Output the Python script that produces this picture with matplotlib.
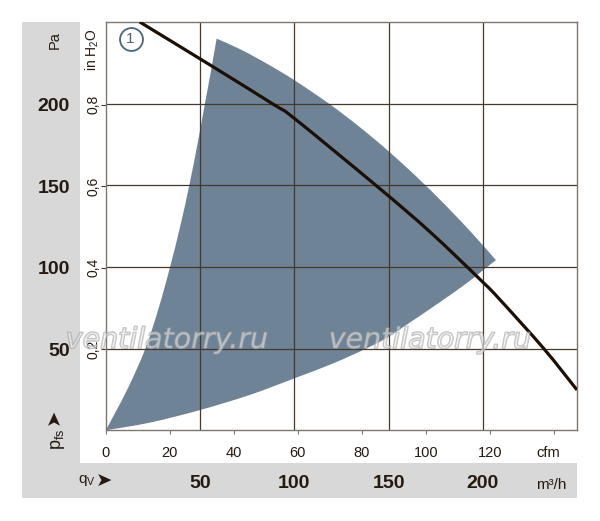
import matplotlib
matplotlib.use('Agg')
import matplotlib.pyplot as plt
import matplotlib.patheffects as pe
from matplotlib.patches import Rectangle, PathPatch
from matplotlib.path import Path
from matplotlib.transforms import Affine2D, blended_transform_factory, offset_copy

plt.rcParams['font.family'] = ['Liberation Sans Narrow', 'Liberation Sans', 'DejaVu Sans']
plt.rcParams['mathtext.fontset'] = 'custom'
plt.rcParams['mathtext.rm'] = 'Liberation Sans'
plt.rcParams['mathtext.it'] = 'Liberation Sans:italic'
plt.rcParams['mathtext.bf'] = 'Liberation Sans:bold'

# ---------------- data ----------------
# fan characteristic curve (m3/h, Pa)
fan_q = [18, 55.3, 88.9, 100, 143.7, 172, 199.8, 209.1, 232.4, 250]
fan_p = [250, 223.7, 199.6, 191, 149.6, 121.5, 91, 80, 50, 24.7]

# operating region boundary (m3/h, Pa): three edges meeting at corners
left_q = [0, 11.4, 21, 28.1, 34.1, 39.5, 44.3, 48.6, 52.6, 55.8, 58.8]
left_p = [0, 25, 50, 75, 100, 125, 150, 175, 200, 220, 239.8]
top_q = [58.8, 71, 85, 100, 118.9, 134.9, 150, 165, 180, 195, 207]
top_p = [239.8, 233.5, 224.8, 214.4, 199.6, 185.5, 170.9, 155.1, 138.1, 119.8, 104.2]
bottom_q = [207, 199.8, 191.4, 173.8, 149.9, 138.4, 120.7, 100, 76.5, 50, 23.4, 0]
bottom_p = [104.2, 97.7, 90, 75.7, 57.3, 50.2, 41, 31.8, 21.7, 12.4, 4.7, 0]

# axes / ticks
grid_m3h = [50, 100, 150, 200]
grid_pa = [50, 100, 150, 200]
m3h_labels = ['50', '100', '150', '200']
pa_labels = ['50', '100', '150', '200']
cfm_ticks = [0, 20, 40, 60, 80, 100, 120, 140]
cfm_labels = ['0', '20', '40', '60', '80', '100', '120']
inh2o_ticks = [0.2, 0.4, 0.6, 0.8]
inh2o_labels = ['0,2', '0,4', '0,6', '0,8']
CFM_TO_M3H = 1.699
INH2O_TO_PA = 249.09


def smooth_chain(xs, ys):
    """Cubic Bezier path passing through every given point (Catmull-Rom tangents)."""
    pts = list(zip(xs, ys))
    n = len(pts)
    verts, codes = [pts[0]], [Path.MOVETO]
    for i in range(n - 1):
        p0 = pts[i - 1] if i > 0 else pts[i]
        p1, p2 = pts[i], pts[i + 1]
        p3 = pts[i + 2] if i + 2 < n else pts[i + 1]
        c1 = (p1[0] + (p2[0] - p0[0]) / 6, p1[1] + (p2[1] - p0[1]) / 6)
        c2 = (p2[0] - (p3[0] - p1[0]) / 6, p2[1] - (p3[1] - p1[1]) / 6)
        verts += [c1, c2, p2]
        codes += [Path.CURVE4] * 3
    return verts, codes


# ---------------- figure ----------------
W, H = 600, 521
fig = plt.figure(figsize=(W / 100, H / 100), dpi=100)
fig.patch.set_facecolor('white')
pix = Affine2D().scale(1 / W, -1 / H).translate(0, 1) + fig.transFigure

STRIP = '#d8d8d8'
fig.add_artist(Rectangle((22, 22), 58, 476, transform=pix, facecolor=STRIP, edgecolor='none', zorder=0))
fig.add_artist(Rectangle((22, 463), 555, 35, transform=pix, facecolor=STRIP, edgecolor='none', zorder=0))

ax = fig.add_axes([105.8 / W, (H - 430.3) / H, 471.2 / W, 408.3 / H])
ax.set_xlim(0, 250)
ax.set_ylim(0, 250)
ax.set_facecolor('white')

SPINE = '#7f776b'
GRID = '#47392a'
TXT = '#241a10'
for s in ax.spines.values():
    s.set_color(SPINE)
    s.set_linewidth(1.0)

# region
verts, codes = [], []
for k, (qs, ps) in enumerate([(left_q, left_p), (top_q, top_p), (bottom_q, bottom_p)]):
    v, c = smooth_chain(qs, ps)
    if k > 0:
        v, c = v[1:], c[1:]
    verts += v
    codes += c
verts.append(verts[0])
codes.append(Path.CLOSEPOLY)
ax.add_patch(PathPatch(Path(verts, codes), facecolor='#6f8397', edgecolor='none', zorder=1))

# grid
for g in grid_m3h:
    ax.axvline(g, color=GRID, lw=0.9, zorder=2)
for g in grid_pa:
    ax.axhline(g, color=GRID, lw=0.9, zorder=2)

# fan curve
fv, fc = smooth_chain(fan_q, fan_p)
ax.add_patch(PathPatch(Path(fv, fc), facecolor='none', edgecolor='#1c0f06', lw=2.3,
                       capstyle='butt', zorder=3))

# ticks
ax.set_xticks([c * CFM_TO_M3H for c in cfm_ticks])
ax.set_yticks([v * INH2O_TO_PA for v in inh2o_ticks])
ax.tick_params(axis='x', direction='out', length=3, width=0.8, color=SPINE, labelbottom=False)
ax.tick_params(axis='y', direction='out', length=3.6, width=0.8, color=GRID, labelleft=False)

# cfm labels
t_cfm = blended_transform_factory(ax.transData, pix)
for c, lab in zip(cfm_ticks, cfm_labels):
    ax.text(c * CFM_TO_M3H, 457, lab, transform=t_cfm, ha='center', va='baseline',
            fontsize=10.5, color=TXT)
fig.text(548, 457, 'cfm', transform=pix, ha='center', va='baseline', fontsize=10.5, color=TXT)

# m3/h labels in the bottom strip
for g, lab in zip(grid_m3h, m3h_labels):
    ax.text(g, 488, lab, transform=t_cfm, ha='center', va='baseline',
            fontsize=14, fontweight='bold', color=TXT)
fig.text(551, 489, 'm³/h', transform=pix, ha='center', va='baseline', fontsize=11, color=TXT)

# Pa labels in the left strip
t_pa = offset_copy(blended_transform_factory(pix, ax.transData), fig=fig, x=0, y=-7.2, units='dots')
for g, lab in zip(grid_pa, pa_labels):
    fig.text(70, g, lab, transform=t_pa, ha='right', va='baseline',
             fontsize=14, fontweight='bold', color=TXT)
fig.text(55, 40, 'Pa', transform=pix, ha='center', va='center', rotation=90, fontsize=10.5, color=TXT)

# inH2O labels
t_in = blended_transform_factory(pix, ax.transData)
for v, lab in zip(inh2o_ticks, inh2o_labels):
    fig.text(93, v * INH2O_TO_PA, lab, transform=t_in, ha='center', va='center',
             rotation=90, fontsize=10, color=TXT)
fig.text(92, 50, r'in H$_2$O', transform=pix, ha='center', va='center', rotation=90,
         fontsize=10, color=TXT)

# axis symbols
fig.text(78, 481, r'$\mathrm{q_V}$', transform=pix, ha='left', va='center', fontsize=11, color=TXT)
fig.text(104, 481.5, '➤', transform=pix, ha='center', va='center', fontsize=14, color=TXT,
         family='DejaVu Sans')
fig.text(58, 439, r'$\mathrm{p_{fs}}$', transform=pix, ha='center', va='center', rotation=90,
         fontsize=13, color=TXT)
fig.text(54.5, 416.5, '➤', transform=pix, ha='center', va='center', rotation=90, fontsize=14,
         color=TXT, family='DejaVu Sans')

# curve number marker
ax.plot([130.5], [38.5], transform=pix, marker='o', ms=16.5, mfc='white', mec='#466580',
        mew=1.3, clip_on=False, zorder=4)
fig.text(130.5, 39, '1', transform=pix, ha='center', va='center', fontsize=11, color='#466580',
         family=['Liberation Sans', 'DejaVu Sans'], zorder=5)

# watermark
for cx in (167, 430):
    fig.text(cx, 348, 'ventilatorry.ru', transform=pix, ha='center', va='baseline',
             fontsize=20.5, style='italic', family='DejaVu Sans', color=(1, 1, 1, 0.3), zorder=10,
             path_effects=[pe.withStroke(linewidth=1.2, foreground=(0.6, 0.6, 0.6, 0.6))])

fig.savefig('out.png', dpi=100)
